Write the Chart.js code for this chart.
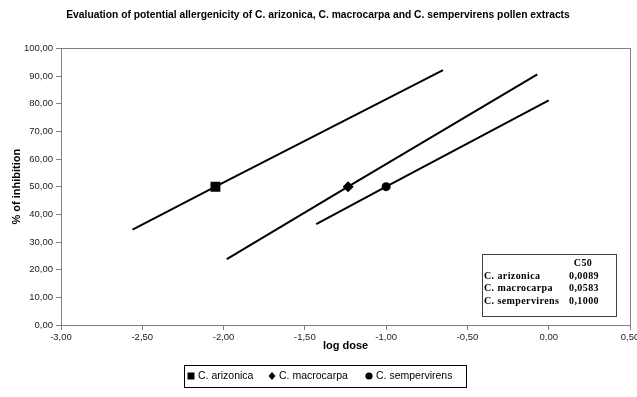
<!DOCTYPE html>
<html>
<head>
<meta charset="utf-8">
<script src="https://cdn.jsdelivr.net/npm/chart.js@4.4.1/dist/chart.umd.min.js"></script>
<style>
  html, body { margin: 0; padding: 0; background: #fff; }
  #wrap { width: 637px; height: 397px; }
</style>
</head>
<body>
<div id="wrap"><canvas id="line-chart" width="637" height="397"></canvas></div>
<script>
// data (x = log dose, y = % of inhibition)
const seriesNames = ['C. arizonica', 'C. macrocarpa', 'C. sempervirens'];
const arizonicaX = [-2.56, -2.05, -0.65];
const arizonicaY = [34.5, 50, 92.1];
const macrocarpaX = [-1.98, -1.234, -0.07];
const macrocarpaY = [23.8, 50, 90.6];
const sempervirensX = [-1.43, -1.0, 0.0];
const sempervirensY = [36.5, 50, 81.2];
const markerStyles = ['rect', 'rectRot', 'circle'];

// C50 table
const tableHeader = 'C50';
const c50Values = ['0,0089', '0,0583', '0,1000'];

function fmt(v) {
  if (Math.abs(v) < 1e-9) v = 0;
  return v.toFixed(2).replace('.', ',');
}

function pts(xs, ys) {
  return xs.map(function(x, i) { return { x: x, y: ys[i] }; });
}

const FONT = '"Liberation Sans", Arial, sans-serif';

const plotBorder = {
  id: 'plotBorder',
  beforeDatasetsDraw: function(chart) {
    const a = chart.chartArea, ctx = chart.ctx;
    ctx.save();
    ctx.strokeStyle = '#808080';
    ctx.lineWidth = 1;
    ctx.strokeRect(Math.round(a.left) + 0.5, Math.round(a.top) + 0.5,
      Math.round(a.right - a.left), Math.round(a.bottom - a.top));
    ctx.restore();
  }
};

const c50Table = {
  id: 'c50Table',
  afterDatasetsDraw: function(chart) {
    const a = chart.chartArea, ctx = chart.ctx;
    const w = 134, h = 62;
    const left = Math.round(a.right - 14 - w), top = Math.round(a.bottom - 9 - h);
    ctx.save();
    ctx.fillStyle = '#fff';
    ctx.fillRect(left, top, w, h);
    ctx.strokeStyle = '#404040';
    ctx.lineWidth = 1;
    ctx.strokeRect(left + 0.5, top + 0.5, w, h);
    ctx.fillStyle = '#000';
    ctx.font = 'bold 10px "Liberation Serif", "Times New Roman", serif';
    if ('letterSpacing' in ctx) ctx.letterSpacing = '0.4px';
    ctx.textBaseline = 'middle';
    ctx.textAlign = 'center';
    ctx.fillText(tableHeader, left + 101, top + 9);
    for (let i = 0; i < seriesNames.length; i++) {
      const y = top + 22.5 + i * 12.3;
      ctx.textAlign = 'left';
      ctx.fillText(seriesNames[i], left + 2, y);
      ctx.textAlign = 'center';
      ctx.fillText(c50Values[i], left + 102, y);
    }
    ctx.restore();
  }
};

// boxed legend under the axis title, drawn from the dataset labels
const boxLegend = {
  id: 'boxLegend',
  afterDraw: function(chart) {
    const ctx = chart.ctx;
    const boxL = 184, boxT = 365, boxW = 282, boxH = 22;
    const cy = boxT + boxH / 2;
    const itemX = [191, 272, 369];
    ctx.save();
    ctx.strokeStyle = '#000';
    ctx.lineWidth = 1;
    ctx.strokeRect(boxL + 0.5, boxT + 0.5, boxW, boxH);
    ctx.fillStyle = '#000';
    ctx.font = '10.5px ' + FONT;
    ctx.textBaseline = 'middle';
    ctx.textAlign = 'left';
    chart.data.datasets.forEach(function(ds, i) {
      const x = itemX[i];
      ctx.beginPath();
      if (ds.pointStyle === 'rect') {
        ctx.rect(x - 3.5, cy - 3.5, 7, 7);
      } else if (ds.pointStyle === 'rectRot') {
        ctx.moveTo(x, cy - 4); ctx.lineTo(x + 3.5, cy); ctx.lineTo(x, cy + 4); ctx.lineTo(x - 3.5, cy);
        ctx.closePath();
      } else {
        ctx.arc(x, cy, 3.6, 0, Math.PI * 2);
      }
      ctx.fill();
      ctx.fillText(ds.label, x + 7, cy + 0.5);
    });
    ctx.restore();
  }
};

function mkSet(i, xs, ys, r) {
  return {
    label: seriesNames[i],
    data: pts(xs, ys),
    borderColor: '#000',
    backgroundColor: '#000',
    borderWidth: 2,
    pointStyle: markerStyles[i],
    pointRadius: [0, r, 0],
    pointHoverRadius: [0, r, 0],
    pointBorderWidth: 0,
    fill: false,
    tension: 0
  };
}

new Chart(document.getElementById('line-chart'), {
  type: 'line',
  data: {
    datasets: [
      mkSet(0, arizonicaX, arizonicaY, 7),
      mkSet(1, macrocarpaX, macrocarpaY, 5.5),
      mkSet(2, sempervirensX, sempervirensY, 4.5)
    ]
  },
  options: {
    responsive: false,
    animation: false,
    layout: { padding: { left: 6, right: 7, top: 0, bottom: 42 } },
    plugins: {
      title: {
        display: true,
        text: 'Evaluation of potential allergenicity of C. arizonica, C. macrocarpa and C. sempervirens pollen extracts',
        color: '#000',
        font: { family: FONT, size: 10.3, weight: 'bold' },
        padding: { top: 9, bottom: 27 }
      },
      legend: { display: false },
      tooltip: { enabled: false }
    },
    scales: {
      x: {
        type: 'linear',
        min: -3, max: 0.5,
        ticks: {
          stepSize: 0.5, color: '#222', padding: 2,
          font: { family: FONT, size: 9.5 },
          maxRotation: 0,
          callback: function(v) { return fmt(v); }
        },
        grid: { drawOnChartArea: false, drawTicks: true, tickLength: 5, color: '#808080' },
        border: { color: '#808080' },
        title: {
          display: true, text: 'log dose', color: '#000',
          font: { family: FONT, size: 11, weight: 'bold' },
          padding: { top: 0, bottom: 2 }
        },
        afterFit: function(s) { s.height = 30; s.paddingRight = 0; s.paddingLeft = 0; }
      },
      y: {
        min: 0, max: 100,
        ticks: {
          stepSize: 10, color: '#222', padding: 3,
          font: { family: FONT, size: 9.5 },
          callback: function(v) { return fmt(v); }
        },
        grid: { drawOnChartArea: false, drawTicks: true, tickLength: 5, color: '#808080' },
        border: { color: '#808080' },
        title: {
          display: true, text: '% of inhibition', color: '#000',
          font: { family: FONT, size: 11, weight: 'bold' },
          padding: { top: 4, bottom: 0 }
        },
        afterFit: function(s) { s.width = 55; s.paddingTop = 0; s.paddingBottom = 0; }
      }
    }
  },
  plugins: [plotBorder, c50Table, boxLegend]
});
</script>
</body>
</html>
